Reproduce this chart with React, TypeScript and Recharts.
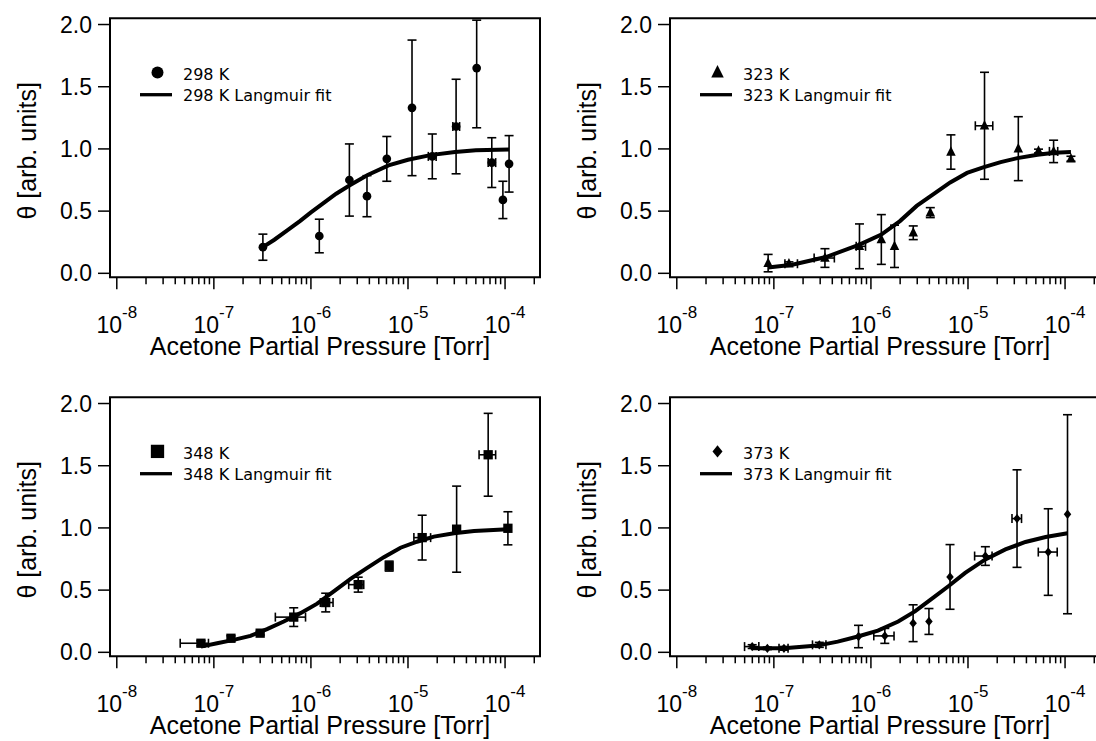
import {
  ComposedChart,
  ErrorBar,
  Legend,
  Line,
  ReferenceArea,
  Scatter,
  XAxis,
  YAxis,
} from 'recharts'

const AXIS_FONT = '"Liberation Sans", Arial, Helvetica, sans-serif'
const LEGEND_FONT = '"DejaVu Sans", Verdana, sans-serif'

// axis ranges (frame edges)
const X_MIN = 10 ** -8.07
const X_MAX = 10 ** -3.64
const Y_MIN = -0.032
const Y_MAX = 2.05

const DECADES = [-8, -7, -6, -5, -4]
const MINOR_STEPS = [2, 3, 4, 5, 6, 7, 8, 9]
const Y_TICKS = [0, 0.5, 1.0, 1.5, 2.0]

// 298 K  (error: one number = symmetric, pair = [below, above] where the bar is cut by the frame)
const P_298 = [3.2e-7, 1.22e-6, 2.49e-6, 3.78e-6, 6.05e-6, 1.1e-5, 1.78e-5, 3.13e-5, 5.1e-5, 7.3e-5, 9.5e-5, 1.1e-4]
const THETA_298 = [0.21, 0.3, 0.75, 0.62, 0.92, 1.33, 0.94, 1.18, 1.65, 0.89, 0.59, 0.88]
const ERR_298 = [0.105, 0.135, 0.29, 0.165, 0.18, 0.545, 0.18, 0.38, [0.48, 0.385], 0.2, 0.15, 0.227]
const XLO_298 = [null, null, null, null, null, null, 1.62e-5, 2.9e-5, null, 6.7e-5, null, null]
const XHI_298 = [null, null, null, null, null, null, 1.95e-5, 3.4e-5, null, 8.0e-5, null, null]
const FIT_P_298 = [3.2e-7, 4.2e-7, 5.7e-7, 7.7e-7, 1.0e-6, 1.4e-6, 1.82e-6, 2.54e-6, 3.84e-6, 6.3e-6, 1.0e-5, 1.7e-5, 3.05e-5, 5.0e-5, 1.1e-4]
const FIT_THETA_298 = [0.21, 0.27, 0.345, 0.42, 0.49, 0.575, 0.64, 0.71, 0.79, 0.868, 0.913, 0.95, 0.976, 0.99, 0.995]

// 323 K
const P_323 = [8.73e-8, 1.43e-7, 3.36e-7, 7.62e-7, 1.28e-6, 1.75e-6, 2.73e-6, 4.09e-6, 6.67e-6, 1.48e-5, 3.3e-5, 5.33e-5, 7.62e-5, 1.15e-4]
const THETA_323 = [0.082, 0.077, 0.123, 0.217, 0.272, 0.217, 0.326, 0.488, 0.975, 1.186, 1.002, 0.983, 0.98, 0.921]
const ERR_323 = [0.07, 0.015, 0.075, 0.18, 0.2, 0.17, 0.055, 0.04, 0.138, 0.43, 0.257, 0.015, 0.09, 0.02]
const XLO_323 = [null, 1.3e-7, 2.6e-7, 7.05e-7, null, null, null, null, null, 1.19e-5, null, null, 6.9e-5, null]
const XHI_323 = [null, 1.75e-7, 4.2e-7, 8.8e-7, null, null, null, null, null, 1.8e-5, null, null, 8.4e-5, null]
const FIT_P_323 = [8.73e-8, 1.55e-7, 3.44e-7, 7.62e-7, 1.28e-6, 1.99e-6, 2.96e-6, 4.41e-6, 6.56e-6, 9.77e-6, 1.46e-5, 2.17e-5, 3.23e-5, 5.2e-5, 7.74e-5, 1.15e-4]
const FIT_THETA_323 = [0.047, 0.069, 0.131, 0.231, 0.312, 0.42, 0.542, 0.637, 0.731, 0.807, 0.853, 0.894, 0.926, 0.953, 0.97, 0.975]

// 348 K
const P_348 = [7.36e-8, 1.5e-7, 3.0e-7, 6.65e-7, 1.42e-6, 3.07e-6, 6.4e-6, 1.4e-5, 3.17e-5, 6.7e-5, 1.07e-4]
const THETA_348 = [0.073, 0.113, 0.154, 0.283, 0.4, 0.544, 0.693, 0.922, 0.99, 1.588, 0.997]
const ERR_348 = [0.02, 0.02, 0.015, 0.075, 0.075, 0.06, 0.04, 0.18, 0.346, 0.333, 0.133]
const XLO_348 = [4.5e-8, null, null, 4.3e-7, 1.25e-6, 2.45e-6, null, 1.15e-5, null, 5.4e-5, null]
const XHI_348 = [8.8e-8, null, null, 8.8e-7, 1.69e-6, 3.5e-6, null, 1.71e-5, null, 8.0e-5, null]
const FIT_P_348 = [7.36e-8, 1.08e-7, 1.6e-7, 2.38e-7, 3.53e-7, 5.25e-7, 7.8e-7, 1.16e-6, 1.72e-6, 2.56e-6, 3.8e-6, 5.64e-6, 8.38e-6, 1.24e-5, 1.85e-5, 2.98e-5, 4.79e-5, 1.07e-4]
const FIT_THETA_348 = [0.046, 0.073, 0.1, 0.132, 0.186, 0.248, 0.315, 0.391, 0.49, 0.59, 0.679, 0.765, 0.841, 0.889, 0.93, 0.957, 0.976, 0.989]

// 373 K
const P_373 = [5.98e-8, 8.57e-8, 1.27e-7, 2.94e-7, 7.45e-7, 1.39e-6, 2.72e-6, 3.96e-6, 6.53e-6, 1.51e-5, 3.2e-5, 6.71e-5, 1.06e-4]
const THETA_373 = [0.046, 0.032, 0.032, 0.06, 0.127, 0.132, 0.234, 0.248, 0.606, 0.774, 1.075, 0.806, 1.11]
const ERR_373 = [0.015, 0.01, 0.015, 0.02, 0.09, 0.06, 0.148, 0.104, 0.26, 0.075, 0.392, 0.348, 0.8]
const XLO_373 = [4.99e-8, null, 1.13e-7, 2.5e-7, null, 1.07e-6, null, null, null, 1.17e-5, 2.84e-5, 5.3e-5, null]
const XHI_373 = [7.0e-8, null, 1.4e-7, 3.44e-7, null, 1.73e-6, null, null, null, 1.77e-5, 3.56e-5, 8.3e-5, null]
const FIT_P_373 = [5.98e-8, 1.27e-7, 2.82e-7, 4.55e-7, 7.33e-7, 1.18e-6, 1.91e-6, 2.84e-6, 4.22e-6, 6.28e-6, 9.35e-6, 1.51e-5, 2.43e-5, 3.91e-5, 6.31e-5, 1.06e-4]
const FIT_THETA_373 = [0.032, 0.032, 0.054, 0.086, 0.127, 0.175, 0.248, 0.329, 0.429, 0.531, 0.639, 0.747, 0.827, 0.887, 0.927, 0.957]

const X_TICKS = DECADES.flatMap((d) => [10 ** d, ...MINOR_STEPS.map((m) => m * 10 ** d)]).filter(
  (v) => v >= 10 ** -8 && v <= X_MAX,
)

function buildPoints(p: number[], th: number[], err: any[], lo: (number | null)[], hi: (number | null)[]) {
  return p.map((v, i) => ({
    p: v,
    theta: th[i],
    ey: err[i],
    ex: lo[i] != null && hi[i] != null ? [v - (lo[i] as number), (hi[i] as number) - v] : undefined,
  }))
}

function buildFit(p: number[], th: number[]) {
  return p.map((v, i) => ({ p: v, theta: th[i] }))
}

// markers (s = full width in px)
const circle = (s: number) => (props: any) => <circle cx={props.cx} cy={props.cy} r={s / 2} fill='#000' />
const triangle = (s: number) => (props: any) => {
  const { cx, cy } = props
  return <polygon points={`${cx},${cy - s * 0.6} ${cx - s / 2},${cy + s * 0.4} ${cx + s / 2},${cy + s * 0.4}`} fill='#000' />
}
const square = (s: number) => (props: any) => (
  <rect x={props.cx - s / 2} y={props.cy - s / 2} width={s} height={s} fill='#000' />
)
const diamond = (s: number) => (props: any) => {
  const { cx, cy } = props
  const w = s / 2
  const h = s * 0.62
  return <polygon points={`${cx},${cy - h} ${cx + w},${cy} ${cx},${cy + h} ${cx - w},${cy}`} fill='#000' />
}

function LogTick(props: any) {
  const { x, y, payload } = props
  const lg = Math.log10(payload.value)
  const exp = Math.round(lg)
  const major = Math.abs(lg - exp) < 1e-6
  return (
    <g>
      <line x1={x} x2={x} y1={y} y2={y + (major ? 12 : 7)} stroke='#000' strokeWidth={1.5} />
      {major && (
        <text x={x} y={y + 56} textAnchor='middle' fontFamily={AXIS_FONT} fontSize={23} fill='#000'>
          10
          <tspan dy={-15} fontSize={17}>
            {exp}
          </tspan>
        </text>
      )}
    </g>
  )
}

const XTitle = (props: any) => {
  const vb = props.viewBox || { x: 110, y: 277, width: 430 }
  return (
    <text x={vb.x + vb.width / 2 - 5} y={vb.y + 78} textAnchor='middle' fontFamily={AXIS_FONT} fontSize={25} fill='#000'>
      Acetone Partial Pressure [Torr]
    </text>
  )
}

const YTitle = (props: any) => {
  const vb = props.viewBox || { x: 0, y: 18, height: 259 }
  const cx = vb.x + 27
  const cy = vb.y + vb.height / 2 + 3
  return (
    <text
      x={cx}
      y={cy}
      transform={`rotate(-90 ${cx} ${cy})`}
      textAnchor='middle'
      dominantBaseline='central'
      fontFamily={AXIS_FONT}
      fontSize={25}
      fill='#000'
    >
      θ [arb. units]
    </text>
  )
}

function LegendBox({ temp, Marker }: { temp: string; Marker: any }) {
  return (
    <svg width={240} height={52} style={{ display: 'block' }}>
      <Marker cx={19.5} cy={14.4} />
      <text x={45} y={22} fontFamily={LEGEND_FONT} fontSize={16} fill='#000'>
        {temp} K
      </text>
      <line x1={2} x2={34} y1={36.7} y2={36.7} stroke='#000' strokeWidth={3.3} />
      <text x={45} y={43.4} fontFamily={LEGEND_FONT} fontSize={16} fill='#000'>
        {temp} K Langmuir fit
      </text>
    </svg>
  )
}

type PanelProps = {
  left: number
  top: number
  temp: string
  points: any[]
  fit: any[]
  marker: any
  legendMarker: any
}

function Panel({ left, top, temp, points, fit, marker, legendMarker }: PanelProps) {
  return (
    <div style={{ position: 'absolute', left, top }}>
      <ComposedChart width={560} height={379} margin={{ top: 18.3, right: 20, bottom: 0, left: 0 }}>
        <XAxis
          dataKey='p'
          type='number'
          scale='log'
          domain={[X_MIN, X_MAX]}
          allowDataOverflow
          ticks={X_TICKS}
          interval={0}
          tick={<LogTick />}
          tickLine={false}
          axisLine={false}
          tickSize={0}
          tickMargin={0}
          height={101.7}
          label={XTitle}
        />
        <YAxis
          dataKey='theta'
          type='number'
          domain={[Y_MIN, Y_MAX]}
          allowDataOverflow
          ticks={Y_TICKS}
          interval={0}
          tickFormatter={(v: number) => v.toFixed(1)}
          width={110}
          tickSize={12}
          tickMargin={6}
          axisLine={false}
          tickLine={{ stroke: '#000', strokeWidth: 1.5 }}
          tick={{ fill: '#000', fontSize: 23, fontFamily: AXIS_FONT }}
          label={YTitle}
        />
        <ReferenceArea
          x1={X_MIN}
          x2={X_MAX}
          y1={Y_MIN}
          y2={Y_MAX}
          fill='none'
          fillOpacity={0}
          stroke='#000'
          strokeWidth={2}
          ifOverflow='visible'
        />
        <Line
          data={fit}
          dataKey='theta'
          name={`${temp} K Langmuir fit`}
          type='linear'
          stroke='#000'
          strokeWidth={4}
          dot={false}
          activeDot={false}
          isAnimationActive={false}
        />
        <Scatter data={points} dataKey='theta' name={`${temp} K`} shape={marker} isAnimationActive={false}>
          <ErrorBar dataKey='ey' direction='y' width={4.5} stroke='#000' strokeWidth={1.6} />
          <ErrorBar dataKey='ex' direction='x' width={4.5} stroke='#000' strokeWidth={1.6} />
        </Scatter>
        <Legend
          layout='vertical'
          align='center'
          verticalAlign='middle'
          wrapperStyle={{ left: 138, top: 58.3, width: 240, height: 52 }}
          content={() => <LegendBox temp={temp} Marker={legendMarker} />}
        />
      </ComposedChart>
    </div>
  )
}

export default function App() {
  return (
    <div
      style={{
        position: 'fixed',
        left: 0,
        top: 0,
        width: 1096,
        height: 741,
        overflow: 'hidden',
        background: '#fff',
      }}
    >
      <Panel
        left={0}
        top={0}
        temp='298'
        points={buildPoints(P_298, THETA_298, ERR_298, XLO_298, XHI_298)}
        fit={buildFit(FIT_P_298, FIT_THETA_298)}
        marker={circle(8.7)}
        legendMarker={circle(12)}
      />
      <Panel
        left={560}
        top={0}
        temp='323'
        points={buildPoints(P_323, THETA_323, ERR_323, XLO_323, XHI_323)}
        fit={buildFit(FIT_P_323, FIT_THETA_323)}
        marker={triangle(9.5)}
        legendMarker={triangle(12.5)}
      />
      <Panel
        left={0}
        top={379}
        temp='348'
        points={buildPoints(P_348, THETA_348, ERR_348, XLO_348, XHI_348)}
        fit={buildFit(FIT_P_348, FIT_THETA_348)}
        marker={square(9.3)}
        legendMarker={square(13.3)}
      />
      <Panel
        left={560}
        top={379}
        temp='373'
        points={buildPoints(P_373, THETA_373, ERR_373, XLO_373, XHI_373)}
        fit={buildFit(FIT_P_373, FIT_THETA_373)}
        marker={diamond(7.5)}
        legendMarker={diamond(10)}
      />
    </div>
  )
}
